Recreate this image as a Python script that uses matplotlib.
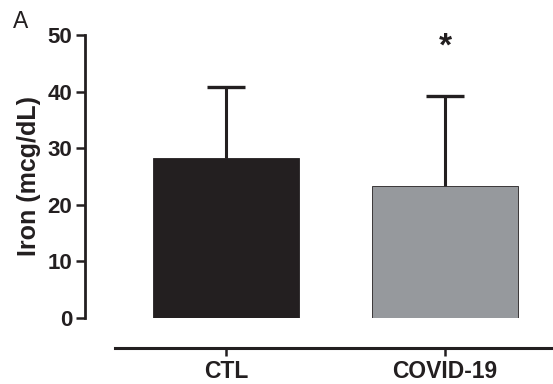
import matplotlib.pyplot as plt
import numpy as np

groups = ["CTL", "COVID-19"]
means = np.array([28.2, 23.4])
sd_upper = np.array([12.6, 15.8])
bar_colors = ["#231f20", "#96999d"]

plt.rcParams['font.family'] = ['Liberation Sans', 'DejaVu Sans']
ink = "#231f20"

fig = plt.figure(figsize=(5.53, 3.84), dpi=100)
W, H = 553, 384
# axes box in pixels: left 85, right 553, top 35, bottom 318
ax = fig.add_axes([85 / W, 1 - 318 / H, (553 - 85) / W, (318 - 35) / H])

x = np.array([0, 1])
ax.bar(x, means, width=0.667, color=bar_colors, edgecolor=ink, linewidth=0.6, zorder=2)
# upper-only error bars (SD)
ax.vlines(x, means, means + sd_upper, color=ink, linewidth=2.2, zorder=1)
ax.hlines(means + sd_upper, x - 0.085, x + 0.085, color=ink, linewidth=2.4, zorder=1)

ax.set_xlim(-0.644, 1.493)
ax.set_ylim(0, 50)
ax.set_yticks([0, 10, 20, 30, 40, 50])
ax.set_xticks(x)
ax.set_xticklabels(groups)

for s in ["top", "right"]:
    ax.spines[s].set_visible(False)
ax.spines["left"].set_linewidth(2.0)
ax.spines["left"].set_color(ink)
ax.spines["bottom"].set_linewidth(2.2)
ax.spines["bottom"].set_color(ink)
ax.spines["bottom"].set_position(("outward", 21.6))
ax.spines["bottom"].set_bounds(-0.507, 1.493)

ax.tick_params(axis="y", length=6.5, width=1.8, color=ink, pad=2.5, labelsize=16)
ax.tick_params(axis="x", length=6, width=1.8, color=ink, pad=3, labelsize=16.5)
for lab in ax.get_xticklabels() + ax.get_yticklabels():
    lab.set_fontweight("bold")
    lab.set_color(ink)

ax.set_ylabel("Iron (mcg/dL)", fontsize=18, fontweight="bold", color=ink, labelpad=5)

ax.text(1, 47.8, "*", ha="center", va="center", fontsize=24, fontweight="bold", color=ink)
fig.text(13 / W, 1 - 22 / H, "A", ha="left", va="center", fontsize=16.5, color=ink)

plt.savefig("out.png", dpi=100)
